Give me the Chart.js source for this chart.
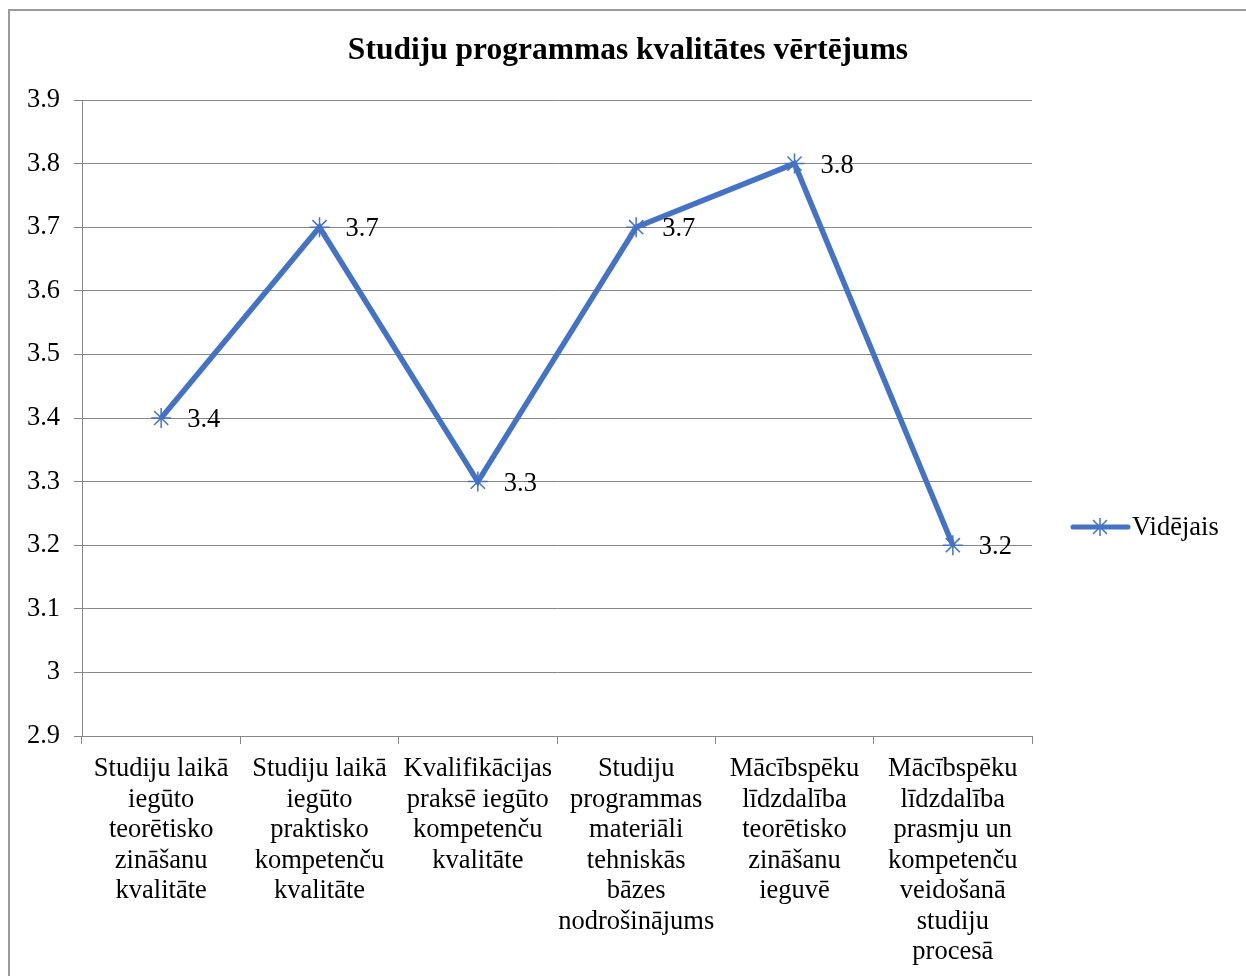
<!DOCTYPE html>
<html>
<head>
<meta charset="utf-8">
<script src="https://cdn.jsdelivr.net/npm/chart.js@4"></script>
<style>
  body { margin: 0; background: #fff; }
  #wrap { position: relative; width: 1246px; height: 976px; }
</style>
</head>
<body>
<div id="wrap"><canvas id="qualityChart" width="1246" height="976"></canvas></div>
<script>
// chart data
const categories = [
  ["Studiju laikā", "iegūto", "teorētisko", "zināšanu", "kvalitāte"],
  ["Studiju laikā", "iegūto", "praktisko", "kompetenču", "kvalitāte"],
  ["Kvalifikācijas", "praksē iegūto", "kompetenču", "kvalitāte"],
  ["Studiju", "programmas", "materiāli", "tehniskās", "bāzes", "nodrošinājums"],
  ["Mācībspēku", "līdzdalība", "teorētisko", "zināšanu", "ieguvē"],
  ["Mācībspēku", "līdzdalība", "prasmju un", "kompetenču", "veidošanā", "studiju", "procesā"]
];
const averageValues = [3.4, 3.7, 3.3, 3.7, 3.8, 3.2];
const seriesName = "Vidējais";
const chartTitle = "Studiju programmas kvalitātes vērtējums";
const yMin = 2.9;
const yMax = 3.9;
const yStep = 0.1;

const blue = "#4472C4";
const gridGray = "#868686";
const serif = "'Liberation Serif', 'Times New Roman', serif";
const fontSize = 26.5;

// frame line on top and left + title centred on the whole canvas
const framePlugin = {
  id: "frame",
  beforeDraw(chart) {
    const ctx = chart.ctx;
    ctx.save();
    ctx.strokeStyle = "#9a9a9a";
    ctx.lineWidth = 2;
    ctx.beginPath();
    ctx.moveTo(9, 976);
    ctx.lineTo(9, 10);
    ctx.lineTo(1246, 10);
    ctx.stroke();

    ctx.font = "bold 31.5px " + serif;
    ctx.fillStyle = "#000";
    ctx.textAlign = "center";
    ctx.textBaseline = "middle";
    ctx.fillText(chartTitle, 628, 51);
    ctx.restore();
  }
};

// value labels to the right of each point
const valueLabels = {
  id: "valueLabels",
  afterDatasetsDraw(chart) {
    const ctx = chart.ctx;
    const meta = chart.getDatasetMeta(0);
    ctx.save();
    ctx.font = fontSize + "px " + serif;
    ctx.fillStyle = "#000";
    ctx.textAlign = "left";
    ctx.textBaseline = "middle";
    meta.data.forEach((pt, i) => {
      ctx.fillText(String(averageValues[i]), pt.x + 26, pt.y + 2);
    });
    ctx.restore();
  }
};

// legend drawn as line + star marker, like the office legend
const sideLegend = {
  id: "sideLegend",
  afterDraw(chart) {
    const ctx = chart.ctx;
    const area = chart.chartArea;
    const x0 = area.right + 41;
    const y = 527;
    const cx = x0 + 27;
    ctx.save();
    ctx.strokeStyle = blue;
    ctx.lineWidth = 5;
    ctx.lineCap = "round";
    ctx.beginPath();
    ctx.moveTo(x0, y);
    ctx.lineTo(x0 + 55, y);
    ctx.stroke();
    ctx.lineWidth = 1.5;
    ctx.lineCap = "butt";
    ctx.beginPath();
    ctx.moveTo(cx - 7, y - 7); ctx.lineTo(cx + 7, y + 7);
    ctx.moveTo(cx + 7, y - 7); ctx.lineTo(cx - 7, y + 7);
    ctx.moveTo(cx, y - 9); ctx.lineTo(cx, y + 9);
    ctx.stroke();
    ctx.font = fontSize + "px " + serif;
    ctx.fillStyle = "#000";
    ctx.textAlign = "left";
    ctx.textBaseline = "middle";
    ctx.fillText(seriesName, x0 + 59, y + 1);
    ctx.restore();
  }
};

const ctx = document.getElementById("qualityChart").getContext("2d");

new Chart(ctx, {
  type: "line",
  data: {
    labels: categories,
    datasets: [
      {
        label: seriesName,
        data: averageValues,
        borderColor: blue,
        backgroundColor: blue,
        borderWidth: 5.5,
        tension: 0,
        pointStyle: "star",
        pointRadius: 10,
        pointBorderWidth: 1.5,
        pointBorderColor: blue,
        pointBackgroundColor: blue
      }
    ]
  },
  options: {
    responsive: false,
    animation: false,
    devicePixelRatio: 1,
    layout: { padding: { top: 100, right: 214, bottom: 0, left: 0 } },
    plugins: {
      legend: { display: false },
      tooltip: { enabled: false },
      title: { display: false }
    },
    scales: {
      x: {
        offset: true,
        grid: { display: true, offset: true, drawOnChartArea: false, drawTicks: true, tickLength: 8, color: gridGray },
        border: { color: gridGray, width: 1 },
        ticks: {
          color: "#000",
          padding: 10,
          maxRotation: 0,
          autoSkip: false,
          font: { family: serif, size: fontSize, lineHeight: 1.15 }
        },
        afterFit(scale) { scale.height = 240; }
      },
      y: {
        min: yMin,
        max: yMax,
        grid: { color: gridGray, tickLength: 8 },
        border: { color: gridGray, width: 1 },
        ticks: {
          stepSize: yStep,
          color: "#000",
          padding: 14,
          font: { family: serif, size: fontSize },
          callback: (v) => String(Math.round(v * 10) / 10)
        },
        afterFit(scale) { scale.width = 82; }
      }
    }
  },
  plugins: [framePlugin, valueLabels, sideLegend]
});
</script>
</body>
</html>
